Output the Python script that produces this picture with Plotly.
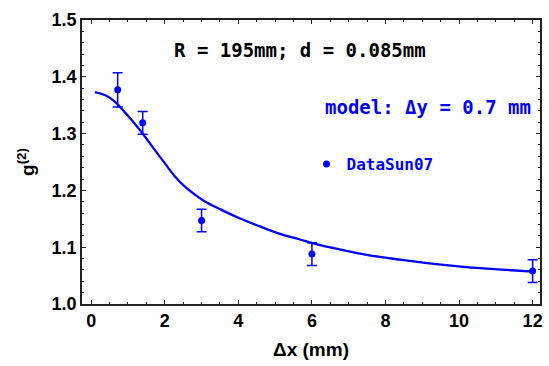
import plotly.graph_objects as go

# Measured data
data_x = [0.72, 1.40, 3.0, 6.0, 12.0]
data_y = [1.377, 1.319, 1.147, 1.088, 1.058]
data_err = [0.030, 0.020, 0.020, 0.020, 0.020]

# Model curve
model_x = [0.1, 0.4, 0.65, 0.92, 1.19, 1.46, 1.73, 2.0, 2.27, 2.54, 2.81, 3.08, 3.5, 4.03, 4.57,
           5.11, 5.65, 6.19, 6.7, 7.45, 8.4, 9.25, 10.2, 11.05, 12.0]
model_y = [1.373, 1.367, 1.356, 1.337, 1.317, 1.295, 1.271, 1.248, 1.225, 1.207, 1.193, 1.181, 1.167,
           1.151, 1.137, 1.124, 1.114, 1.104, 1.097, 1.087, 1.078, 1.071, 1.065, 1.061, 1.057]

x_ticks = [0, 2, 4, 6, 8, 10, 12]
y_ticks = [1.0, 1.1, 1.2, 1.3, 1.4, 1.5]

BLUE = "#0000ff"
MONO = "DejaVu Sans Mono"
SANS = "Liberation Sans"

fig = go.Figure()
fig.add_trace(go.Scatter(x=model_x, y=model_y, mode="lines",
                         line=dict(color=BLUE, width=2.3, shape="spline", smoothing=1.0),
                         showlegend=False, hoverinfo="skip"))
fig.add_trace(go.Scatter(x=data_x, y=data_y, mode="markers", name="<b>DataSun07</b>",
                         marker=dict(color=BLUE, size=7),
                         error_y=dict(type="data", array=data_err, color=BLUE, thickness=1.5, width=5)))

axis_common = dict(showline=True, linecolor="#222", linewidth=1.5, mirror="allticks",
                   ticks="inside", ticklen=4, tickcolor="#222", tickwidth=1,
                   showgrid=False, zeroline=False,
                   tickfont=dict(family=SANS, size=18, color="black"))

fig.update_xaxes(range=[-0.25, 12.2], tickvals=x_ticks, ticktext=[f"<b>{v}</b>" for v in x_ticks],
                 minor=dict(dtick=0.5, ticks="inside", ticklen=2, tickcolor="#222", showgrid=False),
                 title=dict(text="<b>Δx (mm)</b>", font=dict(family=SANS, size=19, color="black"), standoff=12),
                 **axis_common)
fig.update_yaxes(range=[1.0, 1.5], tickvals=y_ticks, ticktext=[f"<b>{v:.1f}</b>" for v in y_ticks],
                 minor=dict(dtick=0.02, ticks="inside", ticklen=2, tickcolor="#222", showgrid=False),
                 title=dict(text="<b>g<sup>(2)</sup></b>", font=dict(family=SANS, size=19, color="black"), standoff=12),
                 **axis_common)

fig.add_annotation(x=(301 - 82) / 461, y=(304 - 50) / 284, xref="paper", yref="paper",
                   text="<b>R = 195mm; d = 0.085mm</b>", showarrow=False,
                   font=dict(family=MONO, size=19, color="black"),
                   xanchor="center", yanchor="middle")
fig.add_annotation(x=(325 - 82) / 461, y=(304 - 107) / 284, xref="paper", yref="paper",
                   text="<b>model: Δy = 0.7 mm</b>", showarrow=False,
                   font=dict(family=MONO, size=19, color=BLUE),
                   xanchor="left", yanchor="middle")

fig.update_layout(
    width=549, height=366,
    margin=dict(l=82, r=6, t=20, b=62),
    plot_bgcolor="white", paper_bgcolor="white",
    legend=dict(x=(308 - 82) / 461, y=(304 - 164) / 284, xanchor="left", yanchor="middle",
                bgcolor="rgba(0,0,0,0)", font=dict(family=MONO, size=16, color=BLUE),
                itemwidth=30),
)

fig.write_html("out.html")
